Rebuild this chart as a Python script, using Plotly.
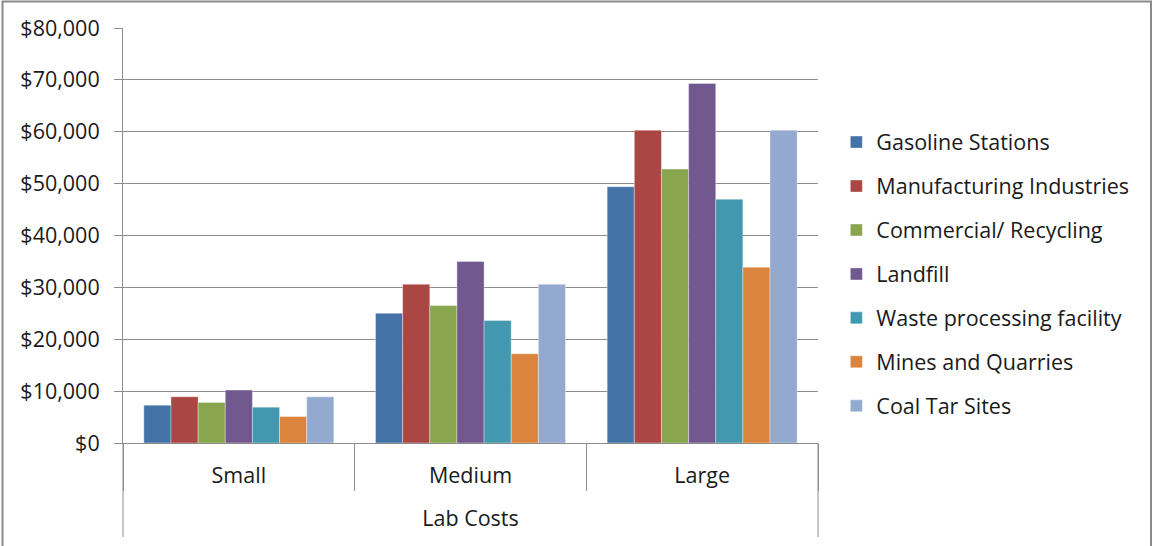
import plotly.graph_objects as go

categories = ["Small", "Medium", "Large"]
outer_label = "Lab Costs"
series_names = [
    "Gasoline Stations",
    "Manufacturing Industries",
    "Commercial/ Recycling",
    "Landfill",
    "Waste processing facility",
    "Mines and Quarries",
    "Coal Tar Sites",
]
gasoline = [7300, 25000, 49400]
manufacturing = [8900, 30600, 60300]
commercial = [7800, 26500, 52800]
landfill = [10200, 35000, 69300]
waste = [6900, 23600, 47000]
mines = [5100, 17200, 33900]
coal_tar = [8900, 30600, 60300]
series_values = [gasoline, manufacturing, commercial, landfill, waste, mines, coal_tar]
colors = ["#4572A7", "#AA4643", "#89A54E", "#71588F", "#4198AF", "#DB843D", "#93A9CF"]

font_family = "Open Sans, sans-serif"
text_color = "#1a1a1a"
grid_color = "#8c8c8c"
fsize = 21.5

fig = go.Figure()
for name, vals, col in zip(series_names, series_values, colors):
    fig.add_trace(go.Bar(
        name=name,
        x=categories,
        y=vals,
        marker=dict(color=col, line=dict(color="rgba(255,255,255,0.6)", width=0.6)),
        legendgroup=name,
    ))

fig.update_layout(
    width=1153,
    height=546,
    barmode="group",
    bargap=0.18,
    bargroupgap=0,
    plot_bgcolor="white",
    paper_bgcolor="white",
    margin=dict(l=123, r=335, t=28, b=103),
    font=dict(family=font_family, size=fsize, color=text_color),
    legend=dict(
        x=1.0264, y=0.407, xanchor="left", yanchor="middle",
        font=dict(size=fsize, color=text_color),
        tracegroupgap=13,
        bgcolor="rgba(0,0,0,0)",
    ),
    showlegend=True,
)

fig.update_yaxes(
    range=[0, 80000],
    dtick=10000,
    tickprefix="$",
    tickformat=",",
    showgrid=True,
    gridcolor=grid_color,
    gridwidth=1,
    showline=True,
    linecolor=grid_color,
    linewidth=1,
    ticks="outside",
    ticklen=8,
    tickcolor=grid_color,
    zeroline=False,
    ticklabelstandoff=10,
    tickfont=dict(size=fsize, color=text_color),
)

fig.update_xaxes(
    type="category",
    showline=True,
    linecolor=grid_color,
    linewidth=1,
    ticks="outside",
    tickson="boundaries",
    ticklen=47,
    tickcolor=grid_color,
    ticklabelstandoff=13,
    tickfont=dict(size=fsize, color=text_color),
    showgrid=False,
    title=dict(text=outer_label, standoff=23, font=dict(size=fsize, color=text_color)),
)

# outer level divider lines at the plot edges (Excel multi-level axis look)
for xp in (0, 1):
    fig.add_shape(
        type="line", xref="paper", yref="paper",
        x0=xp, x1=xp, y0=0, y1=(443 - 537) / 415,
        line=dict(color=grid_color, width=1),
    )

# outer chart frame
fig.add_shape(
    type="rect", xref="paper", yref="paper",
    x0=(2.5 - 123) / 695, x1=(1151 - 123) / 695,
    y0=(443 - 560) / 415, y1=(443 - 1.5) / 415,
    line=dict(color="#8a8a8a", width=2), fillcolor="rgba(0,0,0,0)", layer="above",
)

fig.write_html("out.html")
